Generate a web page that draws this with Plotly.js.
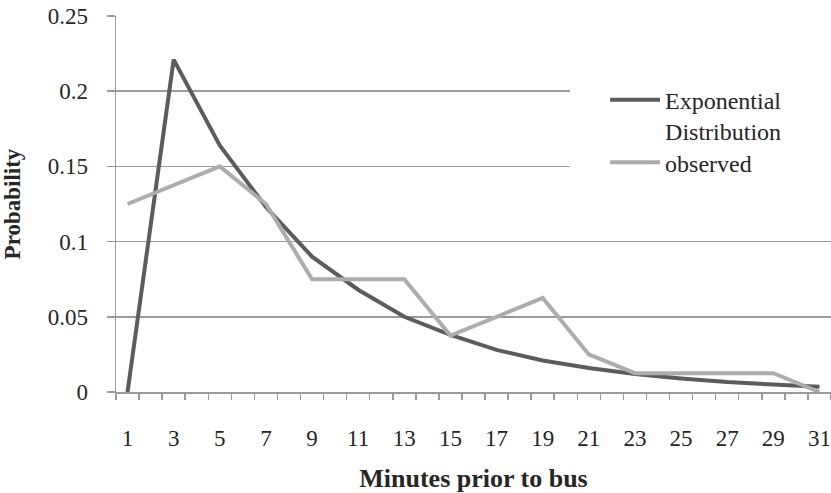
<!DOCTYPE html>
<html>
<head>
<meta charset="utf-8">
<script src="https://cdn.plot.ly/plotly-3.0.1.min.js"></script>
<style>
  html, body { margin: 0; padding: 0; background: #ffffff; }
  #chart { width: 831px; height: 493px; }
</style>
</head>
<body>
<div id="chart"></div>
<script>
// Minutes prior to bus (odd minutes 1..31)
const minutes = [1, 3, 5, 7, 9, 11, 13, 15, 17, 19, 21, 23, 25, 27, 29, 31];
const xTickLabels = ["1", "3", "5", "7", "9", "11", "13", "15", "17", "19", "21", "23", "25", "27", "29", "31"];

// Series values
const exponential = [0, 0.221, 0.164, 0.123, 0.090, 0.068, 0.050, 0.038, 0.028, 0.021, 0.016, 0.012, 0.009, 0.0066, 0.005, 0.0035];
const observed    = [0.125, 0.1375, 0.15, 0.125, 0.075, 0.075, 0.075, 0.0375, 0.05, 0.0625, 0.025, 0.0125, 0.0125, 0.0125, 0.0125, 0];

const seriesNames = ["Exponential<br>Distribution", "observed"];

const yTickVals = [0, 0.05, 0.1, 0.15, 0.2, 0.25];
const yTickText = ["0", "0.05", "0.1", "0.15", "0.2", "0.25"];

const FONT = "Liberation Serif, Times New Roman, serif";
const GRID = "#9a9a9a";

const traces = [
  {
    x: minutes, y: exponential, name: seriesNames[0],
    type: "scatter", mode: "lines",
    line: { color: "#5c5c5c", width: 4 },
    legend: "legend",
    hoverinfo: "skip"
  },
  {
    x: minutes, y: observed, name: seriesNames[1],
    type: "scatter", mode: "lines",
    line: { color: "#adadad", width: 4 },
    legend: "legend2",
    hoverinfo: "skip"
  }
];

const legendStyle = {
  x: 0.684, xanchor: "left", yanchor: "top",
  bgcolor: "rgba(255,255,255,0)",
  font: { family: FONT, size: 24, color: "#262626" },
  valign: "top",
  itemwidth: 50
};

const layout = {
  width: 831, height: 493,
  margin: { l: 116, r: 0, t: 16, b: 101, pad: 0 },
  paper_bgcolor: "#ffffff", plot_bgcolor: "#ffffff",
  font: { family: FONT, size: 23, color: "#262626" },
  showlegend: true,
  legend: Object.assign({}, legendStyle, { y: 0.836 }),
  legend2: Object.assign({}, legendStyle, { y: 0.670 }),
  xaxis: {
    range: [0.5, 31.5],
    tickmode: "array", tickvals: minutes, ticktext: xTickLabels,
    ticks: "", showgrid: false, zeroline: false,
    showline: true, linecolor: GRID, linewidth: 1.5,
    tickfont: { family: FONT, size: 23, color: "#262626" },
    ticklabelstandoff: 25,
    minor: { tickmode: "linear", tick0: 0.5, dtick: 1, ticks: "outside", ticklen: 6, tickcolor: GRID, tickwidth: 1.5, showgrid: false },
    title: { text: "<b>Minutes prior to bus</b>", font: { family: FONT, size: 26, color: "#262626" }, standoff: 26 },
    fixedrange: true
  },
  yaxis: {
    range: [0, 0.25],
    tickmode: "array", tickvals: yTickVals, ticktext: yTickText,
    ticks: "outside", ticklen: 8, tickcolor: GRID, tickwidth: 1.5,
    showgrid: true, gridcolor: GRID, gridwidth: 1.5,
    zeroline: false,
    showline: true, linecolor: GRID, linewidth: 1.5,
    tickfont: { family: FONT, size: 23, color: "#262626" },
    ticklabelstandoff: 14,
    title: { text: "<b>Probability</b>", font: { family: FONT, size: 23, color: "#262626" }, standoff: 22 },
    fixedrange: true
  },
  shapes: [
    {
      type: "rect", xref: "paper", yref: "y",
      x0: 0.635, x1: 1.0, y0: 0.125, y1: 0.225,
      fillcolor: "#ffffff", line: { width: 0 }, layer: "above"
    }
  ]
};

Plotly.newPlot("chart", traces, layout, { staticPlot: true, displayModeBar: false });
</script>
</body>
</html>
